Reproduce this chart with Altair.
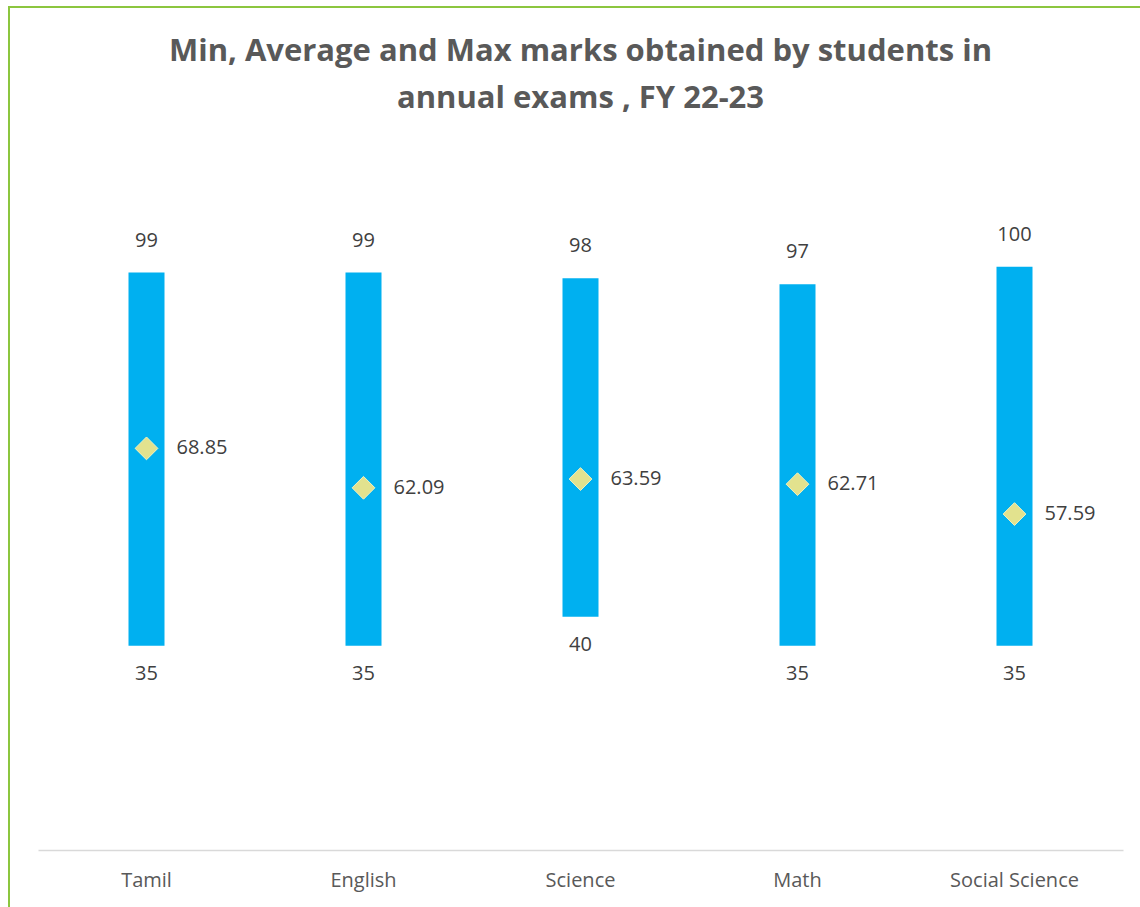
import altair as alt
import pandas as pd

# Marks per subject, FY 22-23 annual exams
subjects = ["Tamil", "English", "Science", "Math", "Social Science"]
min_marks = [35, 35, 40, 35, 35]
avg_marks = [68.85, 62.09, 63.59, 62.71, 57.59]
max_marks = [99, 99, 98, 97, 100]

df = pd.DataFrame({
    "subject": subjects,
    "min": min_marks,
    "avg": avg_marks,
    "max": max_marks,
})

FONT = "Open Sans"
x_enc = alt.X(
    "subject:N",
    sort=subjects,
    title=None,
    scale=alt.Scale(paddingInner=0, paddingOuter=0),
    axis=alt.Axis(
        labelAngle=0,
        labelFont=FONT,
        labelFontSize=20,
        labelColor="#595959",
        labelPadding=20,
        ticks=False,
        domainColor="#D9D9D9",
        domainWidth=1.5,
        grid=False,
    ),
)
y_scale = alt.Scale(domain=[0, 120], nice=False)

base = alt.Chart(df).encode(x=x_enc)

bars = base.mark_bar(size=36, color="#00B0F0").encode(
    y=alt.Y("min:Q", scale=y_scale, axis=None),
    y2="max:Q",
)

avg_pts = base.mark_point(
    shape="diamond", size=520, filled=True, fill="#E2E28E",
    stroke="#F2F2C0", strokeWidth=1, opacity=1,
).encode(y=alt.Y("avg:Q", scale=y_scale))

text_style = dict(font=FONT, fontSize=20, color="#404040", baseline="middle")

max_lbl = base.mark_text(dy=-32, **text_style).encode(
    y=alt.Y("max:Q", scale=y_scale), text="max:Q"
)
min_lbl = base.mark_text(dy=28, **text_style).encode(
    y=alt.Y("min:Q", scale=y_scale), text="min:Q"
)
avg_lbl = base.mark_text(dx=30, align="left", **text_style).encode(
    y=alt.Y("avg:Q", scale=y_scale), text=alt.Text("avg:Q", format=".2f")
)

# Green outline around the whole chart
frame = alt.Chart(alt.Data(values=[{}])).mark_rect(
    filled=False, stroke="#8CC63F", strokeWidth=2
).encode(
    x=alt.value(-29), x2=alt.value(1130),
    y=alt.value(-143), y2=alt.value(790),
)

chart = alt.layer(frame, bars, avg_pts, max_lbl, min_lbl, avg_lbl).properties(
    width=1085,
    height=700,
    title=alt.TitleParams(
        text=["Min, Average and Max marks obtained by students in",
              "annual exams , FY 22-23"],
        font=FONT,
        fontSize=31,
        fontWeight="bold",
        color="#595959",
        anchor="middle",
        frame="group",
        baseline="bottom",
        lineHeight=47,
        offset=0,
        dy=140,
    ),
    autosize=alt.AutoSizeParams(type="none"),
    padding={"left": 38, "top": 150, "right": 17, "bottom": 57},
).configure(background="white").configure_view(stroke=None)

chart.save("out.html", embed_options={"renderer": "svg", "actions": False})
